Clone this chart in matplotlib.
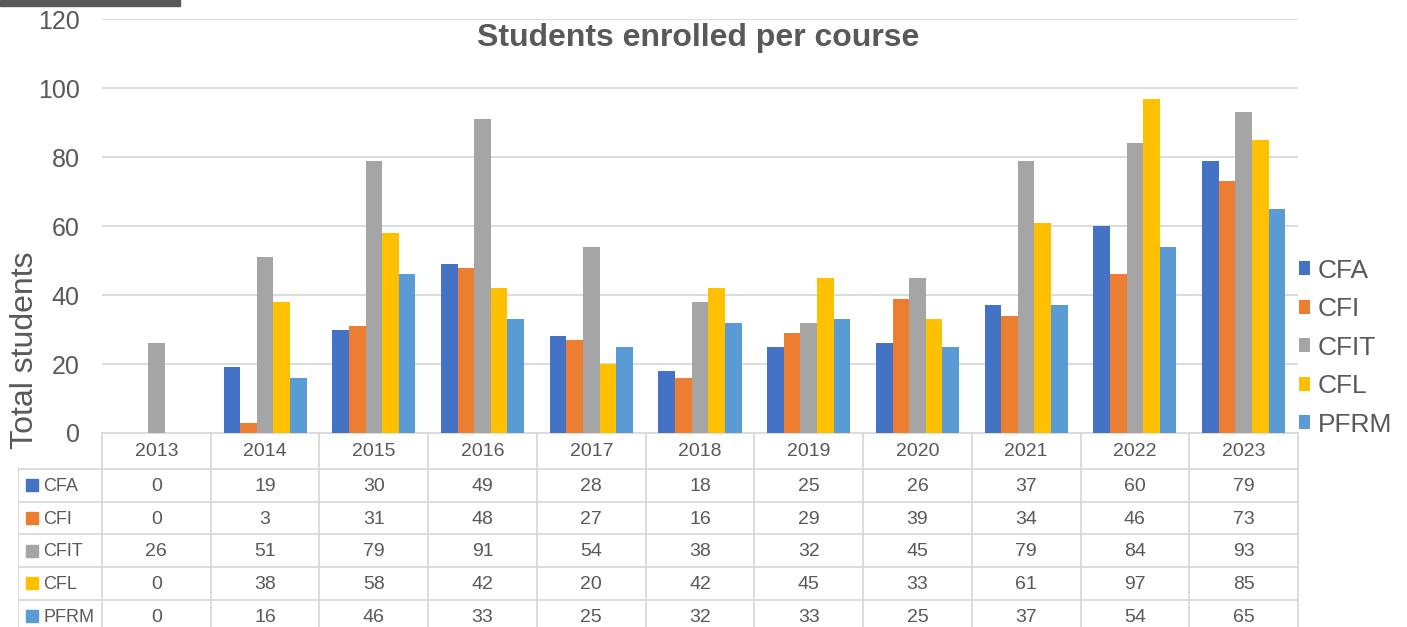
import matplotlib.pyplot as plt
import matplotlib.patches as patches
import numpy as np

plt.rcParams['font.family'] = ['Liberation Sans', 'DejaVu Sans']

years = ['2013', '2014', '2015', '2016', '2017', '2018', '2019', '2020', '2021', '2022', '2023']
courses = ['CFA', 'CFI', 'CFIT', 'CFL', 'PFRM']
cfa = [0, 19, 30, 49, 28, 18, 25, 26, 37, 60, 79]
cfi = [0, 3, 31, 48, 27, 16, 29, 39, 34, 46, 73]
cfit = [26, 51, 79, 91, 54, 38, 32, 45, 79, 84, 93]
cfl = [0, 38, 58, 42, 20, 42, 45, 33, 61, 97, 85]
pfrm = [0, 16, 46, 33, 25, 32, 33, 25, 37, 54, 65]
colors = ['#4472C4', '#ED7D31', '#A5A5A5', '#FFC000', '#5B9BD5']

series = [cfa, cfi, cfit, cfl, pfrm]
txt = '#595959'
grid = '#D9D9D9'

W, H = 1407, 627
fig = plt.figure(figsize=(W / 100, H / 100), dpi=100)

# plot area in pixels
x0, x1 = 102, 1298
y0, y1 = 433, 19.3
ax = fig.add_axes([x0 / W, 1 - y0 / H, (x1 - x0) / W, (y0 - y1) / H])

n = len(years)
x = np.arange(n)
bw = 0.153
for i, (vals, c, name) in enumerate(zip(series, colors, courses)):
    ax.bar(x + (i - 2) * bw, vals, bw, color=c, label=name, zorder=3)

ax.set_xlim(-0.5, n - 0.5)
ax.set_ylim(0, 120)
ax.set_yticks(range(0, 121, 20))
ax.yaxis.grid(True, color=grid, lw=1.3, zorder=0)
ax.set_xticks([])
ax.tick_params(axis='y', length=0, pad=16, labelsize=18, labelcolor=txt)
for s in ax.spines.values():
    s.set_visible(False)

fig.text(25 / W, 1 - 350 / H, 'Total students', rotation=90, ha='center', va='center',
         fontsize=23, color=txt)
fig.text(698 / W, 1 - 38 / H, 'Students enrolled per course', ha='center', va='center',
         fontsize=23, fontweight='bold', color=txt)

# legend on the right
fig.legend(loc='upper left', bbox_to_anchor=(1288 / W, 1 - 248 / H), frameon=False,
           fontsize=19, labelcolor=txt, handlelength=0.45, handleheight=0.45,
           handletextpad=0.27, labelspacing=0.55, borderaxespad=0)

# data table under the plot
px_per_cat = (x1 - x0) / n
lab_left = 18
tx0 = -0.5 - (x0 - lab_left) / px_per_cat
tax = fig.add_axes([lab_left / W, 0, (x1 - lab_left) / W, (H - y0) / H])
tax.set_xlim(tx0, n - 0.5)
tax.set_ylim(H - y0, 0)
tax.axis('off')

head_h = 36
row_h = 32.7
bounds = np.arange(n + 1) - 0.5
for b in bounds:
    tax.plot([b, b], [0, H], color=grid, lw=1.3, clip_on=False)
tax.plot([tx0, tx0], [head_h, H], color=grid, lw=1.3)
tax.plot([-0.5, n - 0.5], [0, 0], color=grid, lw=1.3)
for r in range(len(courses) + 1):
    yy = head_h + r * row_h
    tax.plot([tx0, n - 0.5], [yy, yy], color=grid, lw=1.3)

for j, yr in enumerate(years):
    tax.text(j, head_h / 2 + 1, yr, ha='center', va='center', fontsize=14, color=txt)

key_x = tx0 + (32 - lab_left) / px_per_cat
lab_x = tx0 + (43 - lab_left) / px_per_cat
for r, (name, vals, c) in enumerate(zip(courses, series, colors)):
    yc = head_h + (r + 0.5) * row_h
    tax.plot(key_x, yc, 's', ms=8, color=c)
    tax.text(lab_x, yc + 1, name, ha='left', va='center', fontsize=13, color=txt)
    for j, v in enumerate(vals):
        tax.text(j, yc + 1, str(v), ha='center', va='center', fontsize=14, color=txt)

# dark strip at top-left of the screenshot
fig.add_artist(patches.Rectangle((0, 1 - 6 / H), 180 / W, 6 / H, transform=fig.transFigure,
                                 color='#58585A'))

fig.savefig('out.png', dpi=100)
